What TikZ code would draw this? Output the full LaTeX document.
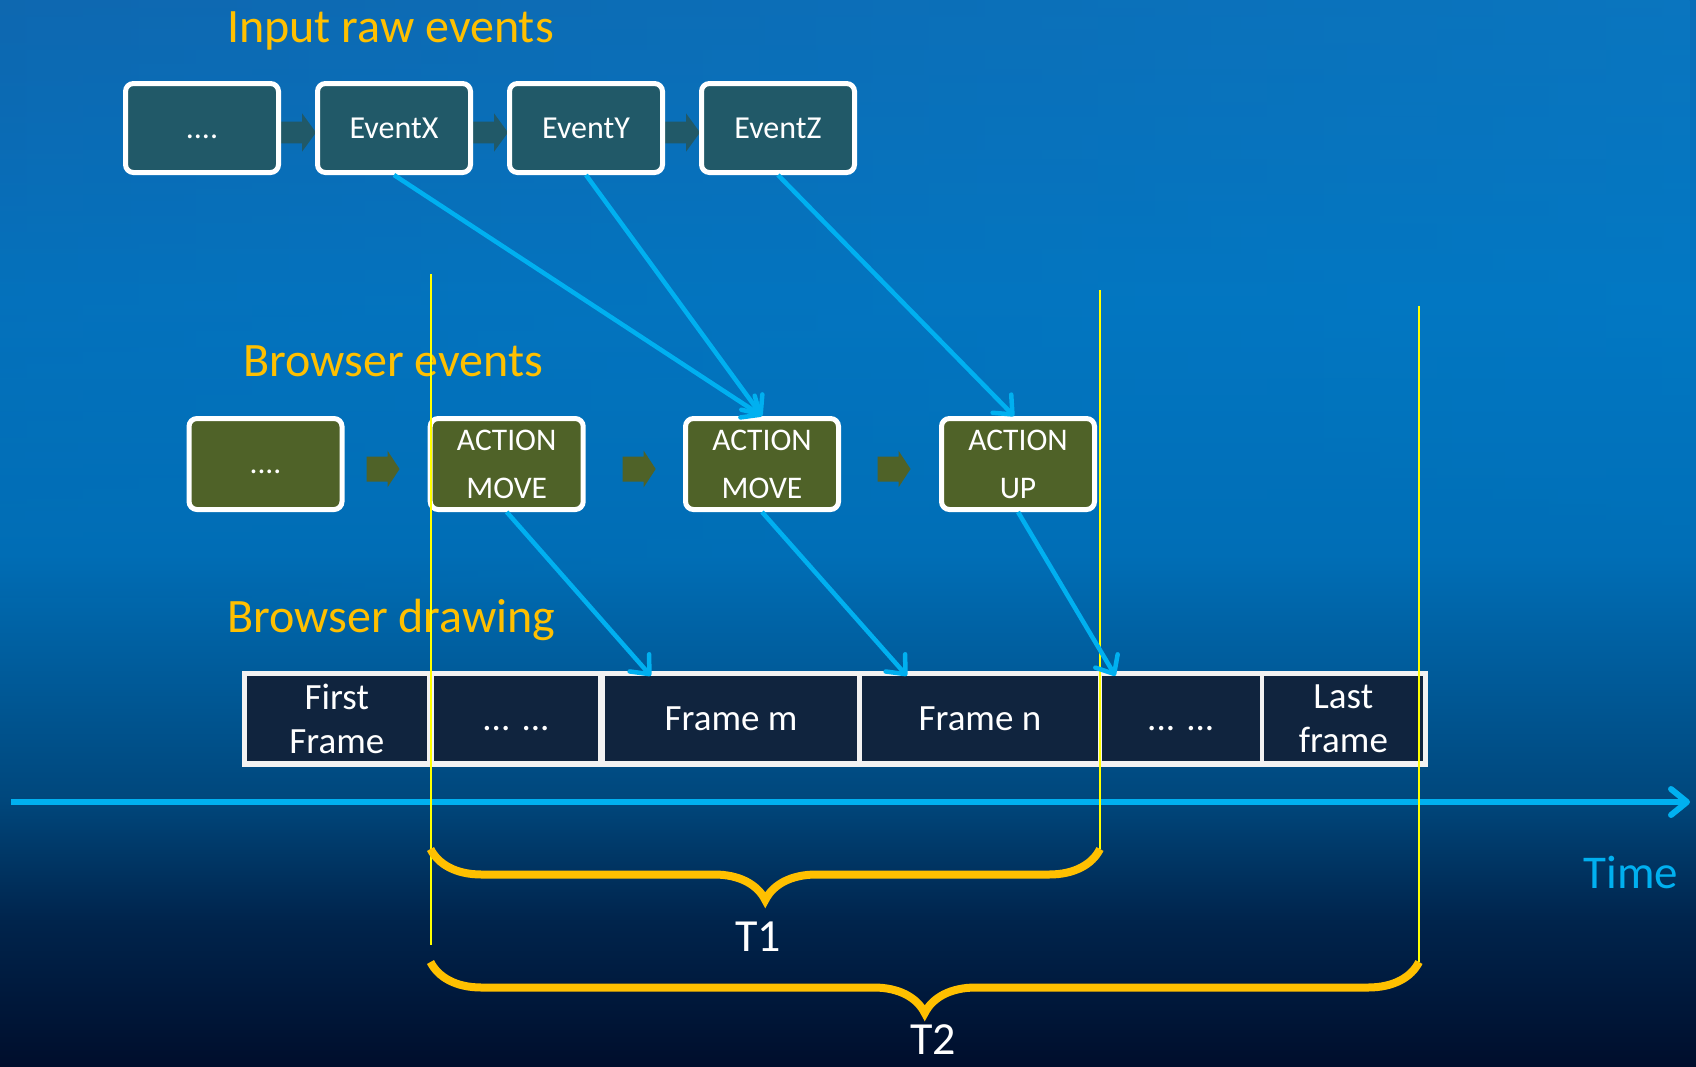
\documentclass[tikz,border=0pt]{standalone}
\usepackage{fontspec}
\setmainfont{Carlito}
\usetikzlibrary{arrows.meta,calc,decorations.pathreplacing,fadings}

\definecolor{gold}{HTML}{FFC000}
\definecolor{sky}{HTML}{00B0F0}
\definecolor{rawfill}{HTML}{215968}
\definecolor{evfill}{HTML}{4F6228}
\definecolor{frfill}{HTML}{10243E}
\definecolor{stripfill}{HTML}{F2F2F2}
\definecolor{guidecol}{HTML}{FFFF00}
\definecolor{bgA}{HTML}{0A6DB8}
\definecolor{bgB}{HTML}{0076C2}
\definecolor{bgC}{HTML}{006EB6}
\definecolor{bgD}{HTML}{00477C}
\definecolor{bgE}{HTML}{00244C}
\definecolor{bgF}{HTML}{000E2C}
\definecolor{tintL}{HTML}{1462A8}
\definecolor{tintR}{HTML}{0A80C8}

% backdrop: bright blue at the top, navy at the bottom
\pgfdeclareverticalshading{backdrop}{100bp}{color(0bp)=(bgF); color(25bp)=(bgF);
  color(31.8bp)=(bgE); color(37.5bp)=(bgD); color(49bp)=(bgC); color(61bp)=(bgB);
  color(75bp)=(bgA); color(100bp)=(bgA)}

\begin{document}
\begin{tikzpicture}[x=1pt,y=-1pt,
  rawbox/.style={draw=white, line width=5pt, rounded corners=8pt, fill=rawfill,
    minimum width=153pt, minimum height=89pt, inner sep=0pt, text=white,
    font=\fontsize{32}{38}\selectfont},
  evbox/.style={rawbox, fill=evfill, minimum height=91pt, align=center,
    font=\fontsize{31.5}{48}\selectfont},
  cell/.style={fill=frfill, inner sep=0pt, minimum height=85pt, text=white,
    align=center, font=\fontsize{37}{44}\selectfont},
  title/.style={gold, anchor=base west, inner sep=0pt, font=\fontsize{48}{56}\selectfont},
  link/.style={sky, line width=4.5pt, -{Straight Barb[length=15pt,width=26pt,round]}},
  guide/.style={guidecol, line width=2pt},
  span/.style={gold, line width=8pt, decorate, decoration={brace, amplitude=51pt, aspect=0.5}},
  spanlbl/.style={text=white, inner sep=0pt, font=\fontsize{46}{52}\selectfont},
  axis/.style={sky, line width=6pt, -{Straight Barb[length=16pt,width=26pt,round]}}
]
\useasboundingbox (0,0) rectangle (1696,1066);

% background
\shade[shading=backdrop] (0,0) rectangle (1696,1066);
\shade[left color=tintL, right color=tintR, opacity=0.45, path fading=south] (0,0) rectangle (1696,600);

% section titles
\node[title] (ttlraw) at (227,42) {Input raw events};
\node[title] (ttlev) at (243,376) {Browser events};
\node[title] (ttldraw) at (227,632) {Browser drawing};

% input raw events row
\coordinate (e0p) at (202,128);
\coordinate (e1p) at (394,128);
\coordinate (e2p) at (586,128);
\coordinate (e3p) at (778,128);
\path (e0p) node[rawbox, fill=none, draw=none] (e0) {}
      (e1p) node[rawbox, fill=none, draw=none] (e1) {}
      (e2p) node[rawbox, fill=none, draw=none] (e2) {}
      (e3p) node[rawbox, fill=none, draw=none] (e3) {};
\foreach \a/\b in {e0/e1, e1/e2, e2/e3} {
  \path (\a.east) coordinate (s) (\b.west) coordinate (t);
  \fill[rawfill] ($(s)+(-4,-6.3)$) -- ($(s)+(21,-6.3)$) -- ($(s)+(21,-14.7)$)
    -- ($(t)+(1,4.5)$) -- ($(s)+(21,23.7)$) -- ($(s)+(21,15.3)$)
    -- ($(s)+(-4,15.3)$) -- cycle;
}
\node[rawbox] at (e0p) {\vphantom{E}....};
\node[rawbox] at (e1p) {EventX};
\node[rawbox] at (e2p) {EventY};
\node[rawbox] at (e3p) {EventZ};

% browser events row
\node[evbox] (m0) at (265.5,464) {\vphantom{E}....};
\node[evbox] (m1) at (506.7,464) {ACTION\\MOVE};
\node[evbox] (m2) at (762,464) {ACTION\\MOVE};
\node[evbox] (m3) at (1018,464) {ACTION\\UP};
\foreach \a/\off in {m0/22, m1/37, m2/36.5} {
  \path (\a.east) coordinate (s);
  \fill[evfill] ($(s)+(\off,-7.5)$) -- ($(s)+(\off+21,-7.5)$) -- ($(s)+(\off+21,-13.3)$)
    -- ($(s)+(\off+33,5)$) -- ($(s)+(\off+21,23.3)$) -- ($(s)+(\off+21,17.5)$)
    -- ($(s)+(\off,17.5)$) -- cycle;
}

% browser drawing strip
\node[fill=stripfill, inner sep=0pt, minimum width=1186pt, minimum height=96pt] (strip) at (835,719) {};
\node[cell, minimum width=180.4pt] (c1) at (336.8,718.5) {First\\Frame};
\node[cell, minimum width=164pt] (c2) at (516,718.5) {\vphantom{F}... ...};
\node[cell, minimum width=252pt] (c3) at (731,718.5) {Frame m};
\node[cell, minimum width=235.7pt] (c4) at (979.9,718.5) {Frame n};
\node[cell, minimum width=157.6pt] (c5) at (1180.8,718.5) {\vphantom{F}... ...};
\node[cell, minimum width=159.5pt] (c6) at (1343.3,718.5) {Last\\frame};

% time axis
\coordinate (ax0) at (11,802);
\coordinate (ax1) at (1690,802);
\draw[axis] (ax0) -- (ax1);
\node[text=sky, inner sep=0pt, font=\fontsize{47}{56}\selectfont] (tm) at (1631,872) {Time};

% guide lines
\coordinate (g1a) at (430.5,274);  \coordinate (g1b) at (430.5,945);
\coordinate (g2a) at (1100,290);   \coordinate (g2b) at (1100,849);
\coordinate (g3a) at (1419,306);   \coordinate (g3b) at (1419,962);
\draw[guide] (g1a) -- (g1b);
\draw[guide] (g2a) -- (g2b);
\draw[guide] (g3a) -- (g3b);

% spans
\coordinate (t1l) at (430.5,849);  \coordinate (t1r) at (1100,849);
\coordinate (t2l) at (430.5,962);  \coordinate (t2r) at (1419,962);
\draw[span] (t1r) -- (t1l);
\draw[span] (t2r) -- (t2l);
\node[spanlbl] (lt1) at (758,937) {T1};
\node[spanlbl] (lt2) at (933,1039.5) {T2};

% event mapping
\draw[link] (e1.south) -- (m2.north);
\draw[link] (e2.south) -- (m2.north);
\draw[link] (e3.south) -- ([xshift=-4pt]m3.north);
\draw[link] (m1.south) -- ([xshift=46pt]c3.north west);
\draw[link] (m2.south) -- ([xshift=45pt]c4.north west);
\draw[link] (m3.south) -- ([xshift=13.5pt]c5.north west);
\end{tikzpicture}
\end{document}
